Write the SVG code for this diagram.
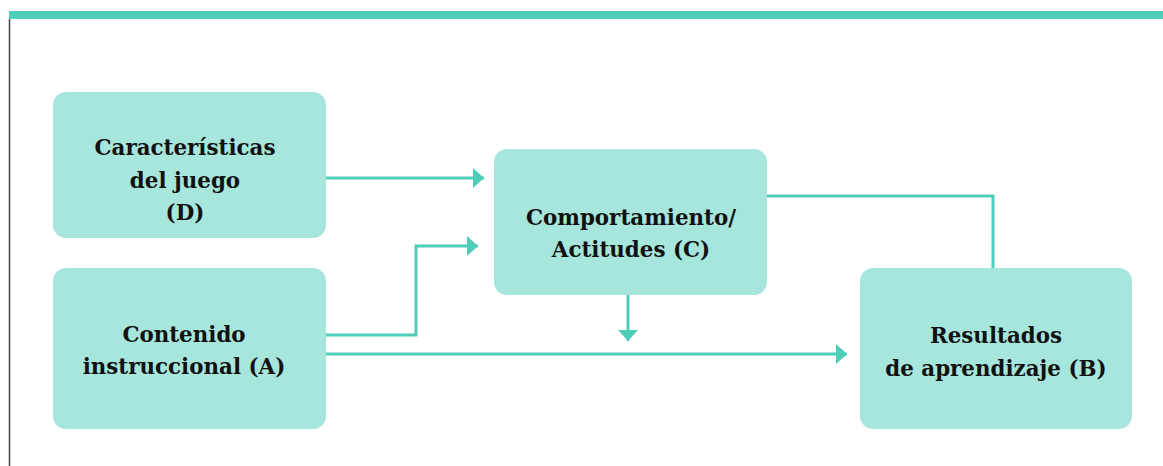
<svg xmlns="http://www.w3.org/2000/svg" width="1163" height="466" viewBox="0 0 1163 466">
<defs>
<style>
.box{fill:#a6e6dc;}
.lbl{font-family:"DejaVu Serif","Liberation Serif",serif;font-weight:bold;font-size:21.4px;fill:#111;text-anchor:middle;}
.con{fill:none;stroke:#4ecdb8;stroke-width:3;}
</style>
<marker id="ah" viewBox="0 0 10 10" refX="10" refY="5" markerWidth="11" markerHeight="20" markerUnits="userSpaceOnUse" orient="auto-start-reverse" preserveAspectRatio="none">
<path d="M0,0 L10,5 L0,10 Z" fill="#4ecdb8"/>
</marker>
</defs>
<rect width="1163" height="466" fill="#ffffff"/>
<rect x="9" y="11" width="1154" height="8" fill="#4ecdb8"/>
<line x1="9.5" y1="19" x2="9.5" y2="466" stroke="#444" stroke-width="1.5"/>
<g id="connectors">
<path class="con" d="M326,178 H484" marker-end="url(#ah)"/>
<path class="con" d="M326,335 H416 V246 H478" marker-end="url(#ah)"/>
<path class="con" d="M628,295 V341" marker-end="url(#ah)"/>
<path class="con" d="M326,354 H847" marker-end="url(#ah)"/>
<path class="con" d="M767,196 H993 V268"/>
</g>
<g id="nodeD">
<rect class="box" x="53" y="92" width="273" height="146" rx="13"/>
<text class="lbl" x="185" y="155">Características</text>
<text class="lbl" x="185" y="188">del juego</text>
<text class="lbl" x="185" y="220">(D)</text>
</g>
<g id="nodeA">
<rect class="box" x="53" y="268" width="273" height="161" rx="13"/>
<text class="lbl" x="184" y="342">Contenido</text>
<text class="lbl" x="184" y="374">instruccional (A)</text>
</g>
<g id="nodeC">
<rect class="box" x="494" y="149" width="273" height="146" rx="13"/>
<text class="lbl" x="631" y="225">Comportamiento/</text>
<text class="lbl" x="631" y="257">Actitudes (C)</text>
</g>
<g id="nodeB">
<rect class="box" x="860" y="268" width="272" height="161" rx="13"/>
<text class="lbl" x="996" y="343">Resultados</text>
<text class="lbl" x="996" y="376">de aprendizaje (B)</text>
</g>
</svg>
